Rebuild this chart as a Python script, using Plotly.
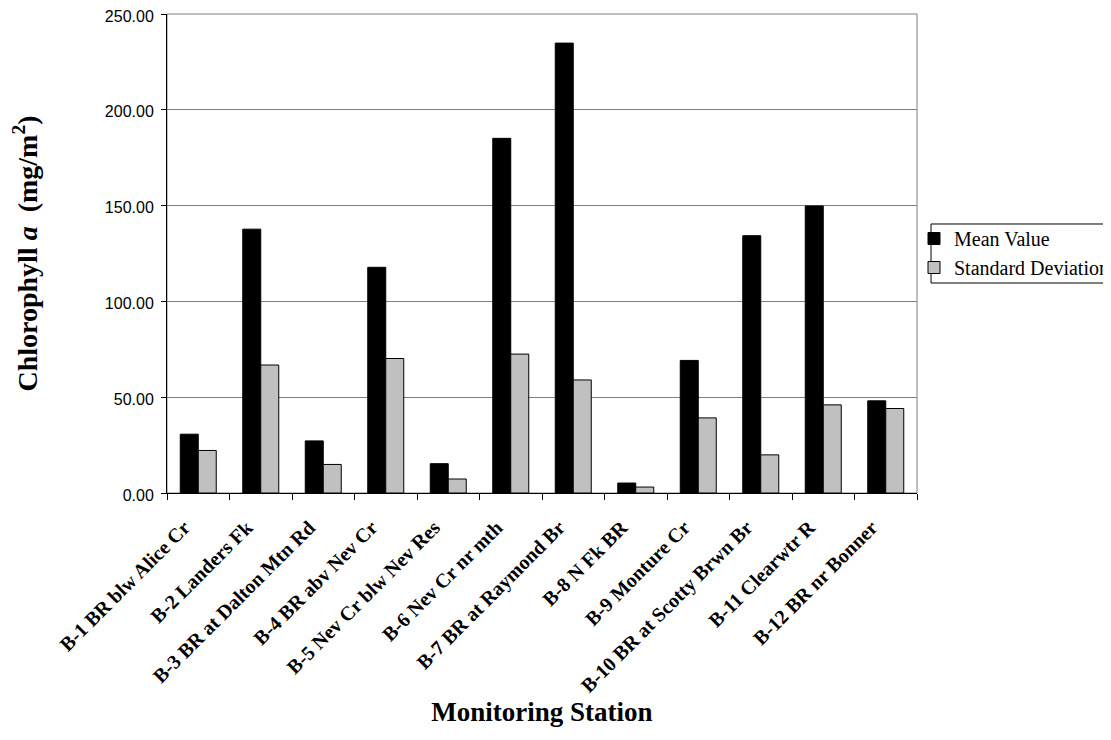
import plotly.graph_objects as go

stations = [
    "B-1 BR blw Alice Cr", "B-2 Landers Fk", "B-3 BR at Dalton Mtn Rd",
    "B-4 BR abv Nev Cr", "B-5 Nev Cr blw Nev Res", "B-6 Nev Cr nr mth",
    "B-7 BR at Raymond Br", "B-8 N Fk BR", "B-9 Monture Cr",
    "B-10 BR at Scotty Brwn Br", "B-11 Clearwtr R", "B-12 BR nr Bonner",
]
mean_value = [30.7, 137.7, 27.2, 117.8, 15.3, 185.1, 234.8, 5.2, 69.2, 134.3, 149.8, 48.1]
std_dev = [22.2, 66.8, 14.9, 70.2, 7.3, 72.5, 59.0, 3.1, 39.2, 19.9, 46.0, 44.1]
y_ticks = [0, 50, 100, 150, 200, 250]

serif = "Liberation Serif, Times New Roman, serif"
sans = "Liberation Sans, Arial, sans-serif"

fig = go.Figure()
fig.add_trace(go.Bar(x=stations, y=mean_value, name="Mean Value",
                     marker=dict(color="#000000", line=dict(color="#000000", width=1))))
fig.add_trace(go.Bar(x=stations, y=std_dev, name="Standard Deviation",
                     marker=dict(color="#C0C0C0", line=dict(color="#000000", width=1))))

# page has an 8px body margin: figure is 1103x732, plot area at x 159..909, y 6..485
fig.update_layout(
    width=1103, height=732,
    margin=dict(l=159, r=194, t=6, b=247, autoexpand=False),
    paper_bgcolor="white", plot_bgcolor="white",
    barmode="group", bargap=0.424, bargroupgap=0,
    showlegend=True,
    legend=dict(x=0.996, y=0.5720, xanchor="left", yanchor="top",
                borderwidth=0, bgcolor="rgba(0,0,0,0)",
                font=dict(family=serif, size=20, color="#000000"),
                itemwidth=30, tracegroupgap=0),
    xaxis=dict(
        tickson="boundaries", ticks="outside", ticklen=6, tickcolor="#000000",
        showline=True, linecolor="#000000", linewidth=1, mirror=False,
        tickangle=-45, tickfont=dict(family=serif, size=20, color="#000000", weight="bold"),
        ticklabelstandoff=14, ticklabelshift=-14,
        title=dict(text="<b>Monitoring Station</b>", font=dict(family=serif, size=27, color="#000000"),
                   standoff=3),
        automargin=False, showgrid=False,
    ),
    yaxis=dict(
        range=[0, 250], tickvals=y_ticks, tickformat=".2f",
        ticks="outside", ticklen=5, tickcolor="#000000",
        showline=True, linecolor="#000000", linewidth=1,
        showgrid=True, gridcolor="#808080", gridwidth=1,
        tickfont=dict(family=sans, size=16, color="#000000"),
        ticklabelstandoff=4, ticklabelshift=2, ticklabeloverflow="allow",
        title=dict(text="<b>Chlorophyll <i>a</i>  (mg/m<sup>2</sup>)</b>",
                   font=dict(family=serif, size=28, color="#000000"), standoff=60),
        automargin=False, zeroline=False,
    ),
)
# gray plot-area border (top and right edges)
fig.add_shape(type="rect", xref="paper", yref="paper", x0=0, y0=0, x1=1, y1=1,
              line=dict(color="#808080", width=1), layer="below")
# legend frame (runs past the right edge of the page, as in the original)
fig.add_shape(type="rect", xref="paper", yref="paper", x0=1.0187, y0=0.4384, x1=1.3, y1=0.5616,
              line=dict(color="#000000", width=1), fillcolor="white", layer="below")

fig.write_html("out.html")
